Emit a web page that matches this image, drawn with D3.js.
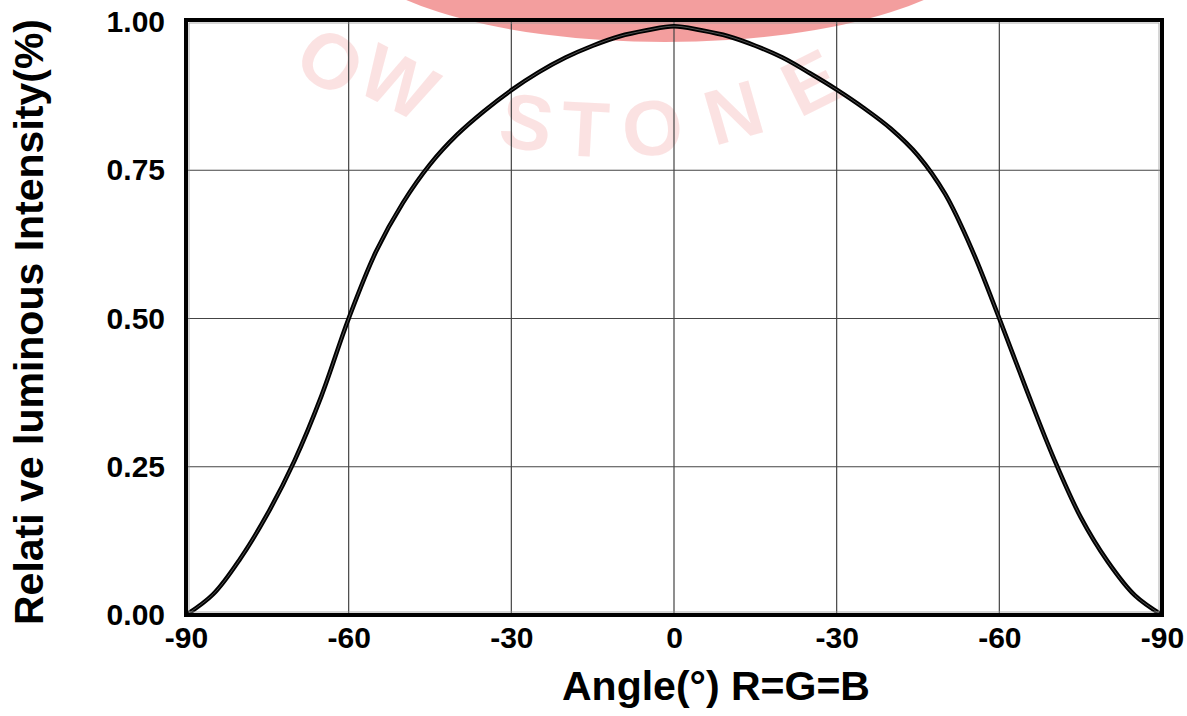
<!DOCTYPE html>
<html>
<head>
<meta charset="utf-8">
<script src="https://cdn.jsdelivr.net/npm/d3@7"></script>
<style>
  html, body { margin: 0; padding: 0; background: #fff; }
  svg { display: block; }
  text { font-family: "Liberation Sans", Arial, sans-serif; font-weight: bold; }
</style>
</head>
<body>
<svg id="chart" width="1187" height="716"></svg>
<script>
// ---- data ----
const angles = [-90,-85,-80,-75,-70,-65,-60,-55,-50,-45,-40,-35,-30,-25,-20,-15,-10,-5,0,
                5,10,15,20,25,30,35,40,45,50,55,60,65,70,75,80,85,90];
const intensity = [0.00,0.035,0.095,0.17,0.26,0.37,0.50,0.612,0.695,0.76,0.81,0.85,0.885,0.915,0.94,0.96,0.976,0.986,0.993,
                   0.986,0.976,0.96,0.94,0.914,0.886,0.855,0.82,0.775,0.71,0.615,0.50,0.38,0.265,0.165,0.09,0.033,0.00];
const xTickValues = [-90,-60,-30,0,30,60,90];
const xTickLabels = ["-90","-60","-30","0","-30","-60","-90"];
const yTickValues = [0,0.25,0.5,0.75,1.0];
const yTickLabels = ["0.00","0.25","0.50","0.75","1.00"];
const xTitle = "Angle(°) R=G=B";
const yTitle = "Relati ve luminous Intensity(%)";
const watermarkLetters = ["O","W","S","T","O","N","E"];
const watermarkAngles = [-36,-27.5,-10.5,-3,5.5,16,26.5];
const watermarkRadii = [474,456,452,452,452,452,452];

// ---- layout ----
const svg = d3.select("#chart");
const pLeft = 186, pRight = 1162, pTop = 22, pBottom = 615;
const x = d3.scaleLinear().domain([-90, 90]).range([pLeft, pRight]);
const y = d3.scaleLinear().domain([0, 1]).range([pBottom, pTop]);

// ---- watermark ----
const wm = svg.append("g").attr("class", "watermark");
wm.append("ellipse")
  .attr("cx", 665).attr("cy", -60).attr("rx", 320).attr("ry", 102)
  .attr("fill", "#ec6262").attr("opacity", 0.62);
const wcx = 609, wcy = -322;
watermarkLetters.forEach((ch, i) => {
  const a = watermarkAngles[i] * Math.PI / 180;
  const r = watermarkRadii[i];
  const px = wcx + r * Math.sin(a), py = wcy + r * Math.cos(a);
  wm.append("text")
    .attr("transform", `translate(${px},${py}) rotate(${-watermarkAngles[i]})`)
    .attr("text-anchor", "middle").attr("dominant-baseline", "central")
    .attr("font-size", 78).attr("fill", "#f7b5b5").attr("opacity", 0.38)
    .text(ch);
});

// ---- grid ----
const grid = svg.append("g").attr("class", "grid");
grid.selectAll("line.vx").data(xTickValues.filter(v => v > -90 && v < 90)).enter()
  .append("line").attr("class", "vx")
  .attr("x1", d => x(d)).attr("x2", d => x(d))
  .attr("y1", pTop).attr("y2", pBottom)
  .attr("stroke", "#444").attr("stroke-width", 1.2);
grid.selectAll("line.hy").data(yTickValues.filter(v => v > 0 && v < 1)).enter()
  .append("line").attr("class", "hy")
  .attr("x1", pLeft).attr("x2", pRight)
  .attr("y1", d => y(d)).attr("y2", d => y(d))
  .attr("stroke", "#444").attr("stroke-width", 1.2);

// ---- curve ----
const pts = angles.map((a, i) => [a, intensity[i]]);
const line = d3.line().x(d => x(d[0])).y(d => y(d[1])).curve(d3.curveCatmullRom.alpha(0.5));
svg.append("path").datum(pts).attr("d", line)
  .attr("fill", "none").attr("stroke", "#000").attr("stroke-width", 4.5)
  .attr("stroke-linejoin", "round");
svg.append("path").datum(pts).attr("d", line)
  .attr("fill", "none").attr("stroke", "#fff").attr("stroke-width", 0.7)
  .attr("opacity", 0.45);

// ---- frame ----
svg.append("rect")
  .attr("x", pLeft).attr("y", pTop - 2).attr("width", pRight - pLeft).attr("height", pBottom - pTop + 2)
  .attr("fill", "none").attr("stroke", "#000").attr("stroke-width", 4);
svg.append("rect")
  .attr("x", pLeft + 3).attr("y", pTop + 1).attr("width", pRight - pLeft - 6).attr("height", pBottom - pTop - 4)
  .attr("fill", "none").attr("stroke", "#999").attr("stroke-width", 0.8);

// ---- axes (labels via d3 axis) ----
const xAxis = d3.axisBottom(x).tickValues(xTickValues)
  .tickFormat((d, i) => xTickLabels[i]).tickSize(0).tickPadding(12);
const gx = svg.append("g").attr("transform", `translate(0,${pBottom})`).call(xAxis);
gx.select(".domain").remove();
gx.selectAll("text").attr("font-size", 30).attr("fill", "#000")
  .style("font-family", "'Liberation Sans', Arial, sans-serif").style("font-weight", "bold");

const yAxis = d3.axisLeft(y).tickValues(yTickValues)
  .tickFormat((d, i) => yTickLabels[i]).tickSize(0).tickPadding(21);
const gy = svg.append("g").attr("transform", `translate(${pLeft},0)`).call(yAxis);
gy.select(".domain").remove();
gy.selectAll("text").attr("font-size", 30).attr("fill", "#000")
  .style("font-family", "'Liberation Sans', Arial, sans-serif").style("font-weight", "bold");

// ---- titles ----
svg.append("text").attr("x", 716).attr("y", 700).attr("text-anchor", "middle")
  .attr("font-size", 41).attr("fill", "#000").text(xTitle);
svg.append("text")
  .attr("transform", "translate(43,322) rotate(-90)")
  .attr("text-anchor", "middle").attr("font-size", 41).attr("fill", "#000")
  .text(yTitle);
</script>
</body>
</html>
